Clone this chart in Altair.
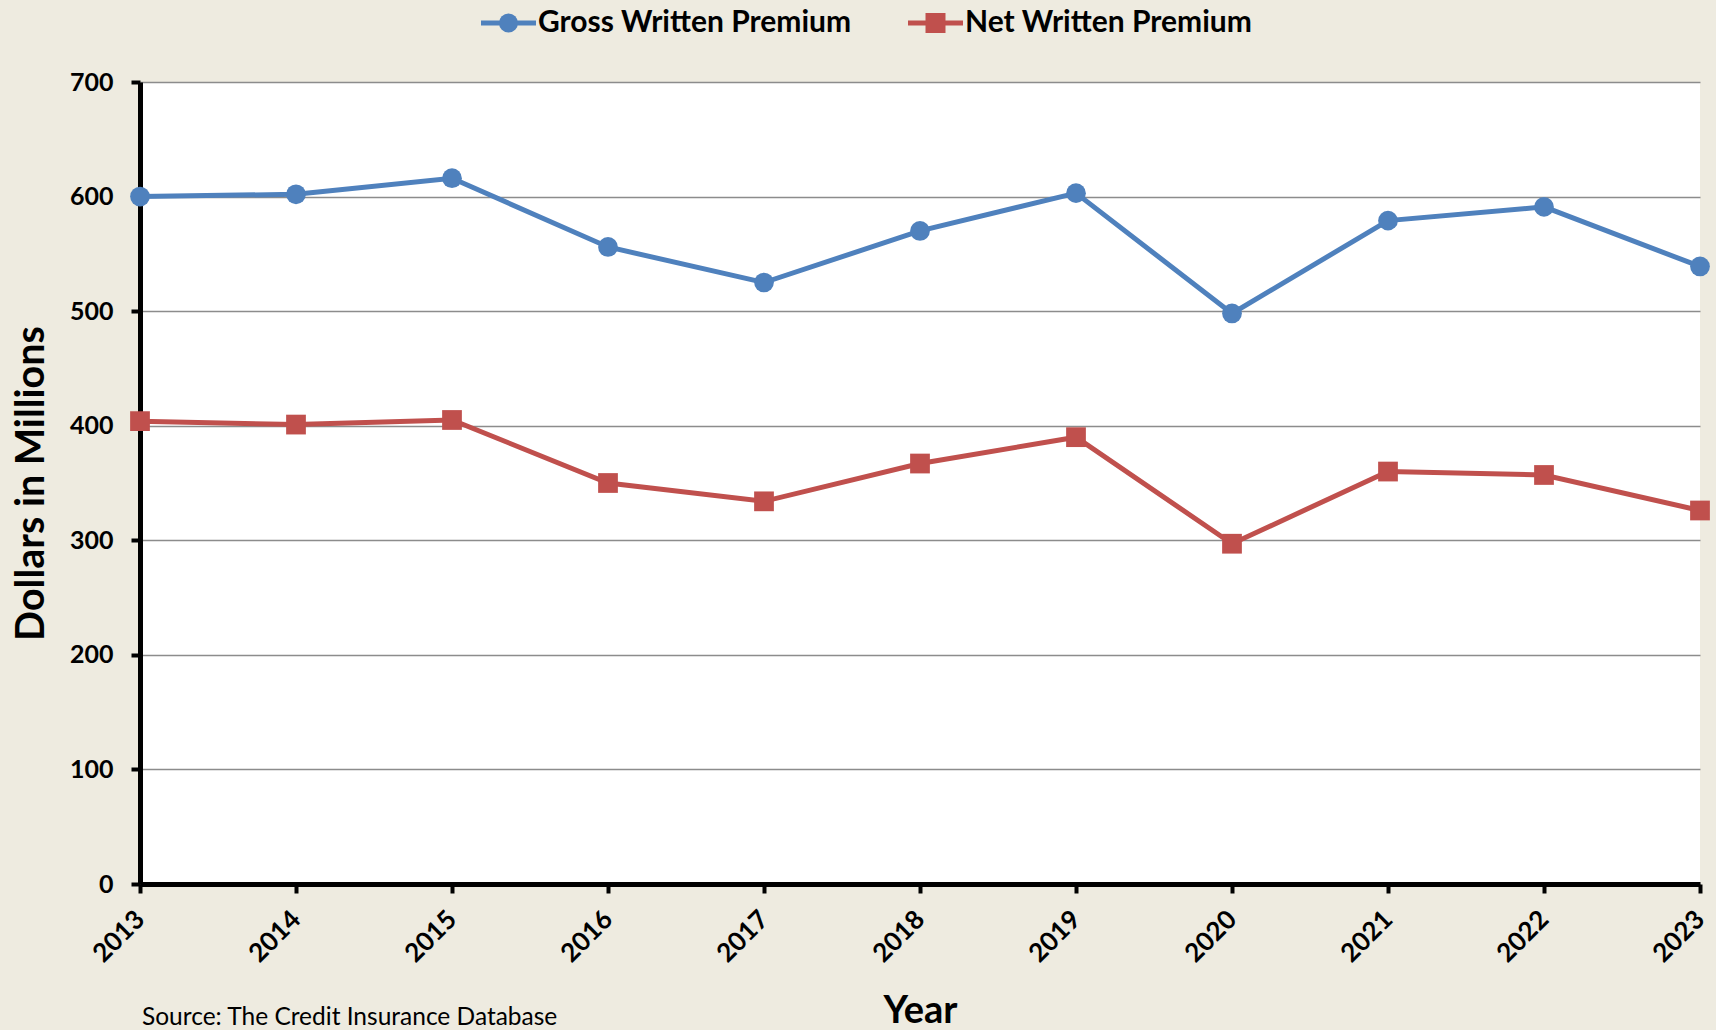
import altair as alt
import pandas as pd

years = [str(y) for y in range(2013, 2024)]
gross = [600, 602, 616, 556, 525, 570, 603, 498, 579, 591, 539]
net = [404, 401, 405, 350, 334, 367, 390, 297, 360, 357, 326]
series_names = ["Gross Written Premium", "Net Written Premium"]
series_colors = ["#4F81BD", "#C0504D"]
series_shapes = ["circle", "square"]
y_ticks = [0, 100, 200, 300, 400, 500, 600, 700]
source_text = ["Source: The Credit Insurance Database"]

df = pd.DataFrame({
    "Year": years * 2,
    "Value": gross + net,
    "Series": [series_names[0]] * len(years) + [series_names[1]] * len(years),
})

W, H = 1560, 802
FONT = "Lato"

x_enc = alt.X(
    "Year:O",
    sort=years,
    scale=alt.Scale(type="point", padding=0),
    axis=alt.Axis(
        title="Year",
        labelAngle=-45,
        labelAlign="right",
        labelBaseline="middle",
        labelFont=FONT,
        labelFontSize=26,
        labelFontWeight="bold",
        labelColor="black",
        labelPadding=22,
        tickColor="black",
        tickWidth=4,
        tickSize=9,
        domainColor="black",
        domainWidth=5,
        grid=False,
        titleFont=FONT,
        titleFontSize=38,
        titleFontWeight="bold",
        titleColor="black",
        titleBaseline="middle",
        titleX=W / 2,
        titleY=127,
    ),
)

y_enc = alt.Y(
    "Value:Q",
    scale=alt.Scale(domain=[0, 700], nice=False),
    axis=alt.Axis(
        title="Dollars in Millions",
        values=y_ticks,
        labelFont=FONT,
        labelFontSize=25,
        labelFontWeight="bold",
        labelColor="black",
        labelPadding=18,
        tickColor="black",
        tickWidth=4,
        tickSize=9,
        domainColor="black",
        domainWidth=5,
        grid=True,
        gridColor="#8c8c8c",
        gridWidth=1.5,
        titleFont=FONT,
        titleFontSize=39.5,
        titleFontWeight="bold",
        titleColor="black",
        titleAngle=-90,
        titleBaseline="middle",
        titleAlign="center",
        titleX=-109,
        titleY=H / 2,
    ),
)

color_scale = alt.Scale(domain=series_names, range=series_colors)
shape_scale = alt.Scale(domain=series_names, range=series_shapes)

lines = alt.Chart(df).mark_line(strokeWidth=5).encode(
    x=x_enc,
    y=y_enc,
    color=alt.Color("Series:N", scale=color_scale, legend=None),
    detail="Series:N",
)

points = alt.Chart(df).mark_point(filled=True, opacity=1, size=390).encode(
    x=x_enc,
    y=y_enc,
    color=alt.Color("Series:N", scale=color_scale, legend=None),
    shape=alt.Shape("Series:N", scale=shape_scale, legend=None),
)

# manual legend (top, centred)
legend_layers = []
legend_x0 = [341, 768]
legend_y = -59
for i, name in enumerate(series_names):
    one = pd.DataFrame({"name": [name]})
    x0 = legend_x0[i]
    legend_layers.append(
        alt.Chart(one).mark_rule(strokeWidth=5, color=series_colors[i]).encode(
            x=alt.value(x0), x2=alt.value(x0 + 55), y=alt.value(legend_y)
        )
    )
    legend_layers.append(
        alt.Chart(one).mark_point(
            filled=True, opacity=1, shape=series_shapes[i],
            size=360 if i == 0 else 400, color=series_colors[i]
        ).encode(x=alt.value(x0 + 27.5), y=alt.value(legend_y))
    )
    legend_layers.append(
        alt.Chart(one).mark_text(
            align="left", baseline="middle", font=FONT, fontSize=30,
            fontWeight="bold", color="black"
        ).encode(text="name:N", x=alt.value(x0 + 57), y=alt.value(legend_y))
    )

src = alt.Chart(pd.DataFrame({"t": source_text})).mark_text(
    align="left", baseline="alphabetic", font=FONT, fontSize=24.5, color="black"
).encode(
    text="t:N",
    x=alt.value(2),
    y=alt.value(943),
)

chart = alt.layer(lines, points, *legend_layers, src).properties(
    width=W,
    height=H,
    background="#EEEBE0",
    padding={"left": 140, "top": 82, "right": 16, "bottom": 146},
    autosize=alt.AutoSizeParams(type="none"),
).configure_view(
    fill="white",
    stroke=None,
)

chart.save("out.html", embed_options={"renderer": "svg", "actions": False})
